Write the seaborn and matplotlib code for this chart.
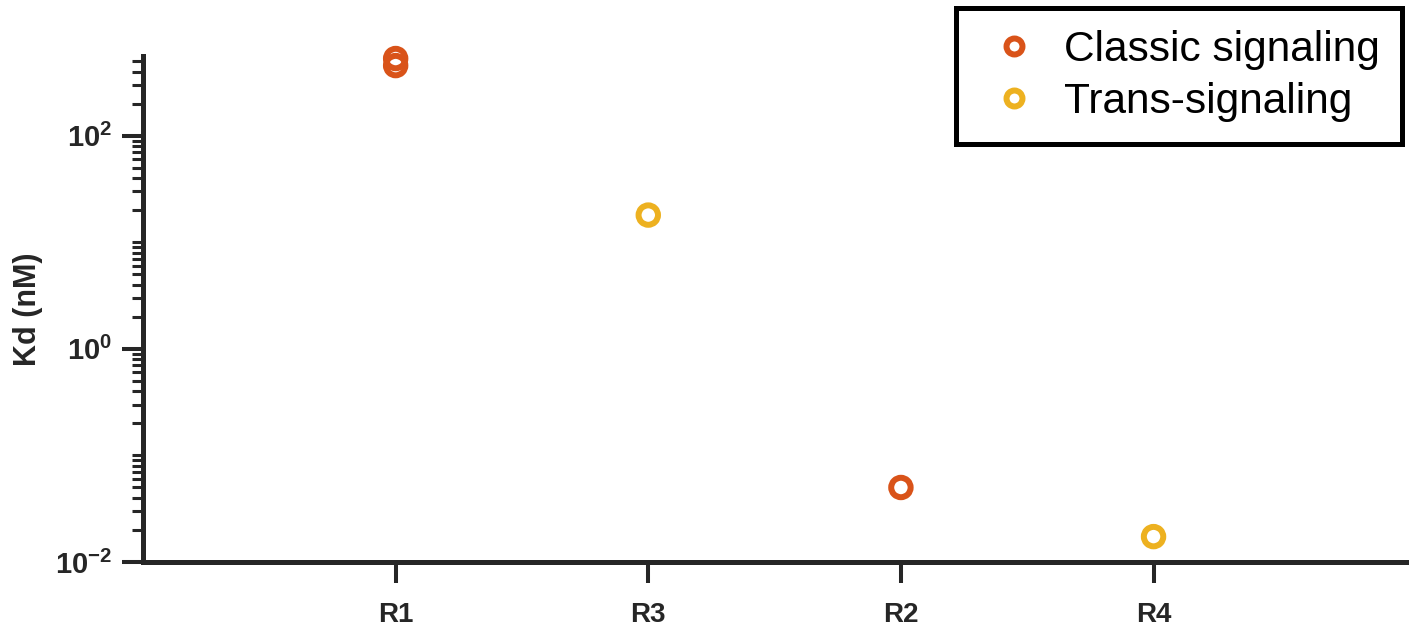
import numpy as np
import pandas as pd
import matplotlib
matplotlib.use("Agg")
import matplotlib.pyplot as plt
import seaborn as sns
from matplotlib.ticker import LogLocator, FixedLocator, FuncFormatter, NullFormatter
from matplotlib.lines import Line2D

# Dissociation constants per receptor and signaling mode
receptors = ["R1", "R1", "R3", "R2", "R4"]
pathway = ["Classic signaling", "Classic signaling", "Trans-signaling",
           "Classic signaling", "Trans-signaling"]
kd_nm = [530, 455, 18, 0.05, 0.0173]

receptor_order = ["R1", "R3", "R2", "R4"]
pathway_order = ["Classic signaling", "Trans-signaling"]
pathway_colors = ["#D95319", "#EDB120"]
ytick_values = [1e-2, 1e0, 1e2]

sns.set_theme(style="ticks")
plt.rcParams["font.family"] = ["Liberation Sans", "DejaVu Sans"]
plt.rcParams["mathtext.fontset"] = "custom"
plt.rcParams["mathtext.rm"] = "Liberation Sans"
plt.rcParams["mathtext.bf"] = "Liberation Sans:bold"

axis_color = "#262626"

df = pd.DataFrame({
    "Receptor": pd.Categorical(receptors, categories=receptor_order),
    "Pathway": pathway,
    "Kd": kd_nm,
})
palette = dict(zip(pathway_order, pathway_colors))

fig = plt.figure(figsize=(14.09, 6.34), dpi=100)
ax = fig.add_axes([0.1015, 0.1136, 0.8965, 0.7981])

sns.stripplot(data=df, x="Receptor", y="Kd", hue="Pathway",
              order=receptor_order, hue_order=pathway_order,
              palette=palette, jitter=False, dodge=False,
              size=14, linewidth=4.3, legend=False, ax=ax)

# open circles: move the fill colour to the edge
for coll in ax.collections:
    fc = coll.get_facecolors()
    coll.set_edgecolors(fc)
    coll.set_facecolors("none")
    coll.set_linewidths(4.3)
    coll.set_clip_on(False)
    coll.set_zorder(5)

ax.set_yscale("log")
ax.set_ylim(1e-2, 560)
ax.set_xlim(-1, 4)

ax.yaxis.set_major_locator(FixedLocator(ytick_values))
ax.yaxis.set_minor_locator(LogLocator(base=10, subs=np.arange(1, 10), numticks=20))
ax.yaxis.set_major_formatter(FuncFormatter(
    lambda v, p: r"$\mathbf{10^{%d}}$" % int(round(np.log10(v)))))
ax.yaxis.set_minor_formatter(NullFormatter())

ax.tick_params(axis="y", which="major", direction="out", length=15, width=2.9,
               pad=7, labelsize=21, color=axis_color, labelcolor=axis_color)
ax.tick_params(axis="y", which="minor", direction="out", length=8, width=2.2,
               color=axis_color)
ax.tick_params(axis="x", which="major", direction="out", length=15, width=2.9,
               pad=13.5, labelsize=20, color=axis_color, labelcolor=axis_color)
for lab in ax.get_xticklabels():
    lab.set_fontweight("bold")

ax.set_xlabel("")
ax.set_ylabel("Kd (nM)", fontsize=22, fontweight="bold", color=axis_color,
              labelpad=9)

sns.despine(ax=ax)
for side in ("left", "bottom"):
    ax.spines[side].set_linewidth(3.6)
    ax.spines[side].set_color(axis_color)
ax.grid(False)

handles = [Line2D([], [], ls="none", marker="o", ms=11.5, mew=4.3,
                  mfc="white", mec=c) for c in pathway_colors]
leg = fig.legend(handles, pathway_order, loc="upper right",
                 bbox_to_anchor=(1402 / 1409, 1 - 8 / 634),
                 fontsize=30.5, frameon=True, fancybox=False, framealpha=1,
                 edgecolor="black", borderpad=0.52, handlelength=1.7,
                 handletextpad=0.33, labelspacing=0.28, borderaxespad=0)
leg.get_frame().set_linewidth(3.6)
for t in leg.get_texts():
    t.set_color("black")

fig.savefig("out.png", dpi=100)
